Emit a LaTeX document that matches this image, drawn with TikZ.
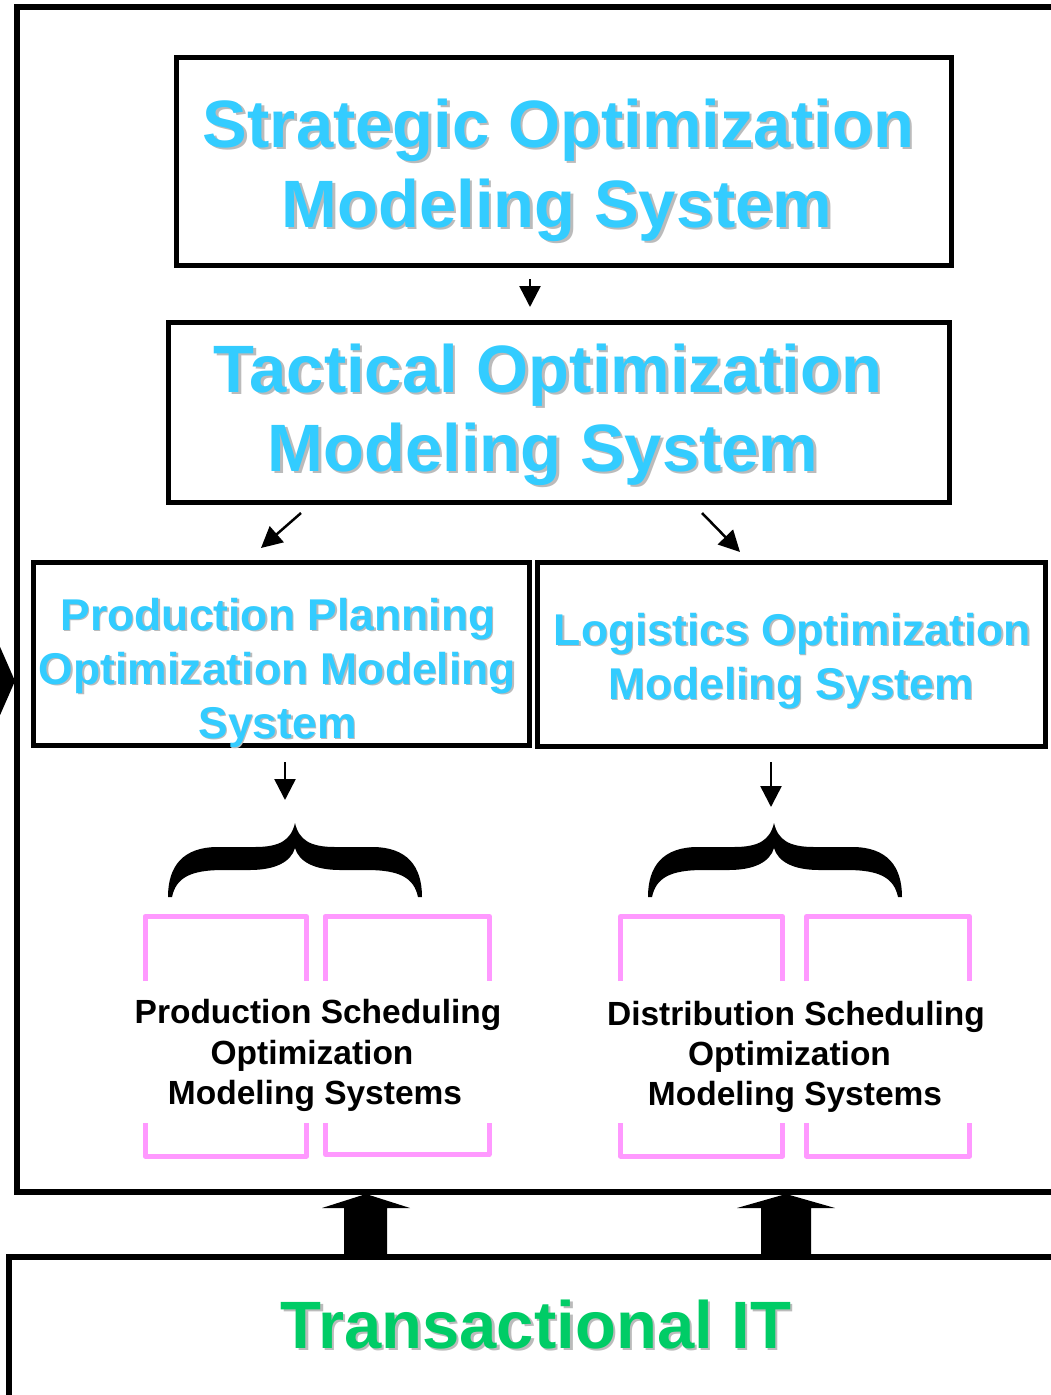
\documentclass[tikz,border=0pt]{standalone}
\usepackage{fontspec}
\setmainfont{Liberation Sans}
\usetikzlibrary{arrows.meta}
\definecolor{skyc}{HTML}{33CCFF}
\definecolor{grnc}{HTML}{00CC66}
\definecolor{pinkc}{HTML}{FF99FF}
\definecolor{shadec}{HTML}{BBBBBB}
% name, x, y, size, colour, shadow offset, text
\newcommand\ShLine[7]{%
  \node[linetext, text=shadec, font=\fontsize{#4}{#4}\selectfont\bfseries] (#1s) at (#2+#6,#3+#6) {#7};
  \node[linetext, text=#5, font=\fontsize{#4}{#4}\selectfont\bfseries] (#1) at (#2,#3) {#7};}
\newcommand\PlLine[4]{% name, x, y, text
  \node[linetext, text=black, font=\fontsize{33.5}{33.5}\selectfont\bfseries] (#1) at (#2,#3) {#4};}
\begin{document}
\begin{tikzpicture}[x=1pt,y=-1pt,
  linetext/.style={anchor=base,inner sep=0pt,outer sep=0pt},
  frameline/.style={draw=black,line width=6pt,line join=miter},
  bx/.style={draw=black,line width=5pt,rectangle,inner sep=0pt,outer sep=0pt},
  thinarrow/.style={line width=2.5pt,-{Triangle[length=21pt,width=21pt]}},
  bracket/.style={draw=pinkc,line width=5pt,line join=round},
  bigarrow/.style={fill=black},
  bracefill/.style={fill=black}]
\useasboundingbox (0,0) rectangle (1051,1395);
\clip (0,0) rectangle (1051,1395);
\fill[white] (0,0) rectangle (1051,1395);

% outer frame and bottom box
\draw[frameline] (1080,7) -- (17,7) -- (17,1192) -- (1080,1192);
\draw[frameline] (1080,1257) -- (9,1257) -- (9,1420);

% left pointer
\fill[black] (-10,624) -- (15,681) -- (-10,738) -- cycle;

% boxes
\node[bx, minimum width=775, minimum height=208] (strat) at (563.5,161) {};
\node[bx, minimum width=781, minimum height=180] (tact) at (558.5,412) {};
\node[bx, minimum width=496, minimum height=183] (prod) at (281.5,654) {};
\node[bx, minimum width=508, minimum height=184] (logi) at (791.5,654) {};

% texts
\ShLine{st1}{558.5}{147}{67}{skyc}{2.5}{Strategic Optimization}
\ShLine{st2}{557}{227}{67}{skyc}{2.5}{Modeling System}
\ShLine{ta1}{548}{392}{67}{skyc}{2.5}{Tactical Optimization}
\ShLine{ta2}{543}{471}{67}{skyc}{2.5}{Modeling System}
\ShLine{pp1}{278}{630}{44.5}{skyc}{1.5}{Production Planning}
\ShLine{pp2}{277.5}{684}{44.5}{skyc}{1.5}{Optimization Modeling}
\ShLine{pp3}{277.5}{738}{44.5}{skyc}{1.5}{System}
\ShLine{lo1}{792.5}{645}{44.5}{skyc}{1.5}{Logistics Optimization}
\ShLine{lo2}{791}{699}{44.5}{skyc}{1.5}{Modeling System}
\ShLine{tr1}{536}{1348}{67}{grnc}{2.5}{Transactional IT}

\PlLine{ps1}{318}{1023}{Production Scheduling}
\PlLine{ps2}{312}{1064}{Optimization}
\PlLine{ps3}{315}{1104}{Modeling Systems}
\PlLine{ds1}{796}{1025}{Distribution Scheduling}
\PlLine{ds2}{789.5}{1065}{Optimization}
\PlLine{ds3}{795}{1105}{Modeling Systems}

% thin arrows
\coordinate (a1s) at (530,279); \coordinate (a1e) at (530,307);
\coordinate (a2s) at (301,513); \coordinate (a2e) at (261,548);
\coordinate (a3s) at (702,513); \coordinate (a3e) at (740,552);
\coordinate (a4s) at (285,762); \coordinate (a4e) at (285,800);
\coordinate (a5s) at (771,762); \coordinate (a5e) at (771,807);
\draw[thinarrow] (a1s) -- (a1e);
\draw[thinarrow] (a2s) -- (a2e);
\draw[thinarrow] (a3s) -- (a3e);
\draw[thinarrow] (a4s) -- (a4e);
\draw[thinarrow] (a5s) -- (a5e);

% braces
\foreach \cx/\L/\R in {295/168/422, 774/648/902}{
\fill[bracefill] (\cx,823) .. controls (\cx-4,840) and (\cx-15,847) .. (\cx-40,847)
  -- (\L+50,847) .. controls (\L+15,847) and (\L,866) .. (\L,897)
  -- (\L+4,897) .. controls (\L+8,878) and (\L+22,870) .. (\L+55,870)
  -- (\cx-45,870) .. controls (\cx-20,870) and (\cx-4,862) .. (\cx,848)
  .. controls (\cx+4,862) and (\cx+20,870) .. (\cx+45,870)
  -- (\R-55,870) .. controls (\R-22,870) and (\R-8,878) .. (\R-4,897)
  -- (\R,897) .. controls (\R,866) and (\R-15,847) .. (\R-50,847)
  -- (\cx+40,847) .. controls (\cx+15,847) and (\cx+4,840) .. cycle;
}

% pink brackets
\draw[bracket] (145,981) -- (145,916.5) -- (306.5,916.5) -- (306.5,981);
\draw[bracket] (325,981) -- (325,916.5) -- (489.5,916.5) -- (489.5,981);
\draw[bracket] (620.5,981) -- (620.5,916.5) -- (782.5,916.5) -- (782.5,981);
\draw[bracket] (806.5,981) -- (806.5,916.5) -- (969.5,916.5) -- (969.5,981);
\draw[bracket] (145,1123) -- (145,1156) -- (306.5,1156) -- (306.5,1123);
\draw[bracket] (325.5,1123) -- (325.5,1154.5) -- (489,1154.5) -- (489,1123);
\draw[bracket] (620.5,1123) -- (620.5,1156) -- (782.5,1156) -- (782.5,1123);
\draw[bracket] (806.5,1123) -- (806.5,1156) -- (969.5,1156) -- (969.5,1123);

% big upward arrows
\fill[bigarrow] (344,1257) -- (344,1208) -- (322,1208) -- (366,1194) -- (410,1208) -- (387,1208) -- (387,1257) -- cycle;
\fill[bigarrow] (761,1257) -- (761,1208) -- (737,1208) -- (786,1194) -- (835,1208) -- (811,1208) -- (811,1257) -- cycle;
\end{tikzpicture}
\end{document}
